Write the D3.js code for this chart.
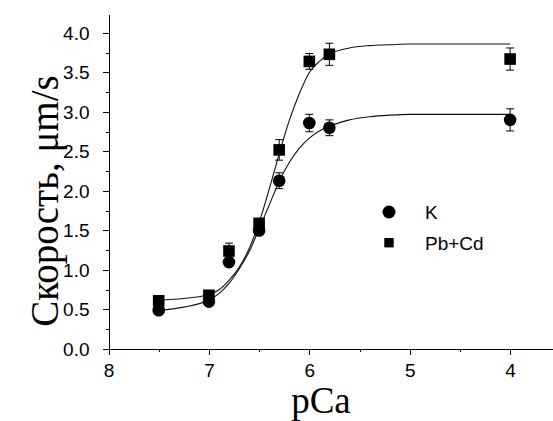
<!DOCTYPE html>
<html>
<head>
<meta charset="utf-8">
<script src="https://cdn.jsdelivr.net/npm/d3@7"></script>
<style>
  body { margin: 0; background: #fff; }
  svg { display: block; }
  .tick text { font-family: "Liberation Sans", Arial, sans-serif; font-size: 19px; fill: #000; }
  .axis path, .axis line { stroke: #000; stroke-width: 1; shape-rendering: crispEdges; }
</style>
</head>
<body>
<svg id="chart" width="553" height="421"></svg>
<script>
// measured points
var pCa = [7.5, 7.0, 6.8, 6.5, 6.3, 6.0, 5.8, 4.0];
var speedK = [0.49, 0.60, 1.10, 1.50, 2.13, 2.86, 2.80, 2.90];
var errK = [0.04, 0.04, 0.05, 0.05, 0.10, 0.11, 0.10, 0.14];
var speedPbCd = [0.61, 0.68, 1.24, 1.59, 2.52, 3.64, 3.73, 3.67];
var errPbCd = [0.05, 0.04, 0.10, 0.06, 0.13, 0.10, 0.14, 0.14];

// fitted curves
var fitX = [7.5, 7.25, 7.0, 6.9, 6.8, 6.7, 6.6, 6.5, 6.4, 6.3, 6.2, 6.1, 6.0, 5.9, 5.8, 5.6, 5.4, 5.2, 5.0, 4.5, 4.0];
var fitK = [0.49, 0.53, 0.62, 0.70, 0.83, 1.01, 1.23, 1.52, 1.82, 2.12, 2.36, 2.54, 2.67, 2.76, 2.82, 2.90, 2.94, 2.96, 2.97, 2.97, 2.97];
var fitPbCd = [0.62, 0.64, 0.69, 0.75, 0.87, 1.03, 1.27, 1.60, 2.02, 2.47, 2.89, 3.23, 3.50, 3.64, 3.73, 3.81, 3.84, 3.85, 3.86, 3.86, 3.86];

var xMajor = [8, 7, 6, 5, 4];
var xMinor = [7.5, 6.5, 5.5, 4.5];
var yMajor = [0, 0.5, 1, 1.5, 2, 2.5, 3, 3.5, 4];
var yMinor = [0.25, 0.75, 1.25, 1.75, 2.25, 2.75, 3.25, 3.75];

var seriesNames = ["K", "Pb+Cd"];

var svg = d3.select("#chart");

var x = d3.scaleLinear().domain([8, 3.573]).range([108.5, 553]);
var y = d3.scaleLinear().domain([0, 4.24]).range([349, 14]);

// axes
svg.append("g")
  .attr("class", "axis")
  .attr("transform", "translate(0,349)")
  .call(d3.axisBottom(x).tickValues(xMinor).tickSize(3).tickFormat(""))
  .select(".domain").remove();
svg.append("g")
  .attr("class", "axis")
  .attr("transform", "translate(0,349)")
  .call(d3.axisBottom(x).tickValues(xMajor).tickSize(6).tickSizeOuter(0).tickPadding(9).tickFormat(d3.format("d")));

svg.append("g")
  .attr("class", "axis")
  .attr("transform", "translate(108.5,0)")
  .call(d3.axisLeft(y).tickValues(yMinor).tickSize(3).tickFormat(""))
  .select(".domain").remove();
svg.append("g")
  .attr("class", "axis")
  .attr("transform", "translate(108.5,0)")
  .call(d3.axisLeft(y).tickValues(yMajor).tickSize(6).tickSizeOuter(0).tickPadding(13).tickFormat(d3.format(".1f")));

// axis titles
svg.append("text")
  .attr("transform", "translate(58,201) rotate(-90)")
  .attr("text-anchor", "middle")
  .style("font-family", "'Liberation Serif', 'Times New Roman', serif")
  .style("font-size", "39px")
  .text("Скорость, μm/s");

svg.append("text")
  .attr("x", 321)
  .attr("y", 413)
  .attr("text-anchor", "middle")
  .style("font-family", "'Liberation Serif', 'Times New Roman', serif")
  .style("font-size", "37px")
  .text("pCa");

// fit lines
var line = d3.line()
  .x(function(d){ return x(d[0]); })
  .y(function(d){ return y(d[1]); })
  .curve(d3.curveMonotoneX);

[fitK, fitPbCd].forEach(function(vals){
  svg.append("path")
    .datum(fitX.map(function(v, i){ return [v, vals[i]]; }))
    .attr("d", line)
    .attr("fill", "none")
    .attr("stroke", "#111")
    .attr("stroke-width", 1.1);
});

// error bars + markers
function drawSeries(vals, errs, shape){
  var data = pCa.map(function(v, i){ return {x: v, y: vals[i], e: errs[i]}; });
  var g = svg.append("g");
  var eb = g.selectAll("g.err").data(data).enter().append("g").attr("class", "err")
    .attr("stroke", "#000").attr("stroke-width", 1);
  eb.append("line")
    .attr("x1", function(d){ return x(d.x); }).attr("x2", function(d){ return x(d.x); })
    .attr("y1", function(d){ return y(d.y + d.e); }).attr("y2", function(d){ return y(d.y - d.e); });
  eb.append("line")
    .attr("x1", function(d){ return x(d.x) - 4; }).attr("x2", function(d){ return x(d.x) + 4; })
    .attr("y1", function(d){ return y(d.y + d.e); }).attr("y2", function(d){ return y(d.y + d.e); });
  eb.append("line")
    .attr("x1", function(d){ return x(d.x) - 4; }).attr("x2", function(d){ return x(d.x) + 4; })
    .attr("y1", function(d){ return y(d.y - d.e); }).attr("y2", function(d){ return y(d.y - d.e); });

  if (shape === "circle") {
    g.selectAll("circle").data(data).enter().append("circle")
      .attr("cx", function(d){ return x(d.x); })
      .attr("cy", function(d){ return y(d.y); })
      .attr("r", 6.3)
      .attr("fill", "#000");
  } else {
    g.selectAll("rect.pt").data(data).enter().append("rect")
      .attr("class", "pt")
      .attr("x", function(d){ return x(d.x) - 5.8; })
      .attr("y", function(d){ return y(d.y) - 5.8; })
      .attr("width", 11.6).attr("height", 11.6)
      .attr("fill", "#000");
  }
}
drawSeries(speedK, errK, "circle");
drawSeries(speedPbCd, errPbCd, "square");

// legend
var legend = svg.append("g").attr("transform", "translate(389,212)");
legend.append("circle").attr("cx", 0).attr("cy", 0).attr("r", 6.5).attr("fill", "#000");
legend.append("rect").attr("x", -4.7).attr("y", 26).attr("width", 9.4).attr("height", 9.4).attr("fill", "#000");
legend.selectAll("text").data(seriesNames).enter().append("text")
  .attr("x", 36)
  .attr("y", function(d, i){ return 7 + i * 31; })
  .style("font-family", "'Liberation Sans', Arial, sans-serif")
  .style("font-size", "19px")
  .text(function(d){ return d; });
</script>
</body>
</html>
